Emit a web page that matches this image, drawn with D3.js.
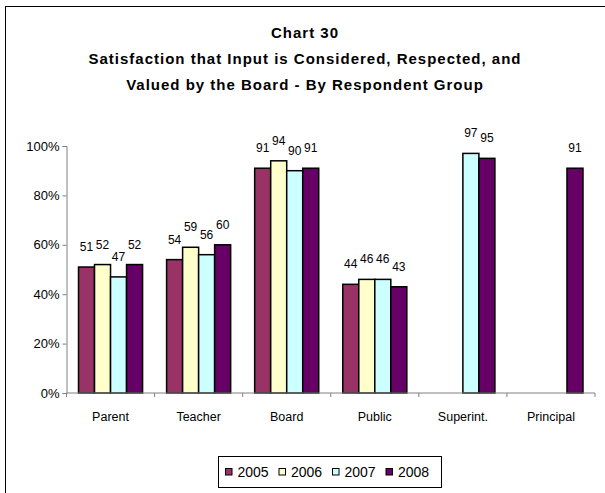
<!DOCTYPE html>
<html>
<head>
<meta charset="utf-8">
<script src="https://cdn.jsdelivr.net/npm/d3@7"></script>
<style>
  body { margin: 0; background: #fff; }
  svg { display: block; font-family: 'Liberation Sans', Arial, sans-serif; }
</style>
</head>
<body>
<svg id="chart" width="605" height="493"></svg>
<script>
const categories = ['Parent', 'Teacher', 'Board', 'Public', 'Superint.', 'Principal'];
const years = ['2005', '2006', '2007', '2008'];
const colors = ['#993366', '#ffffcc', '#ccffff', '#660066'];

// percent values per year, null where the group was not surveyed
const v2005 = [51, 54, 91, 44, null, null];
const v2006 = [52, 59, 94, 46, null, null];
const v2007 = [47, 56, 90, 46, 97, null];
const v2008 = [52, 60, 91, 43, 95, 91];

const yTicks = [0, 0.2, 0.4, 0.6, 0.8, 1];
const titleLines = [
  'Chart 30',
  'Satisfaction that Input is Considered, Respected, and',
  'Valued by the Board - By Respondent Group'
];

function drawChart() {
  const svg = d3.select('#chart');
  const series = [v2005, v2006, v2007, v2008];

  // outer chart frame (only left and top edges are visible)
  svg
    .append('rect')
    .attr('x', 5.5)
    .attr('y', 6.5)
    .attr('width', 700)
    .attr('height', 700)
    .attr('fill', 'none')
    .attr('stroke', '#000')
    .attr('stroke-width', 1);

  svg
    .append('g')
    .selectAll('text')
    .data(titleLines)
    .join('text')
    .attr('x', 305)
    .attr('y', (d, i) => 38 + i * 26)
    .attr('text-anchor', 'middle')
    .attr('font-size', 15)
    .attr('font-weight', 'bold')
    .attr('letter-spacing', 1)
    .text(d => d);

  const x = d3
    .scaleBand()
    .domain(categories)
    .range([66.5, 595]);

  const xInner = d3
    .scaleBand()
    .domain(years)
    .range([0, x.bandwidth()])
    .paddingOuter(0.75);

  const y = d3
    .scaleLinear()
    .domain([0, 1])
    .range([393, 146]);

  // y axis
  const yAxis = svg
    .append('g')
    .attr('transform', 'translate(66.5,0)')
    .call(
      d3
        .axisLeft(y)
        .tickValues(yTicks)
        .tickFormat(d3.format('.0%'))
        .tickSize(4)
        .tickPadding(3)
    );
  yAxis.select('.domain').attr('stroke', '#808080');
  yAxis.selectAll('.tick line').attr('stroke', '#808080');
  yAxis
    .selectAll('.tick text')
    .attr('fill', '#000')
    .attr('font-size', 13)
    .attr('font-family', 'Liberation Sans, Arial, sans-serif');

  // bars
  const bars = svg.append('g');
  series.forEach(function(vals, si) {
    const rows = categories
      .map((c, i) => ({cat: c, value: vals[i]}))
      .filter(d => d.value != null);

    bars
      .selectAll('.bar' + si)
      .data(rows)
      .join('rect')
      .attr('class', 'bar' + si)
      .attr('x', d => x(d.cat) + xInner(years[si]))
      .attr('y', d => y(d.value / 100))
      .attr('width', xInner.bandwidth())
      .attr('height', d => y(0) - y(d.value / 100))
      .attr('fill', colors[si])
      .attr('stroke', '#000')
      .attr('stroke-width', 1.5);

    bars
      .selectAll('.lbl' + si)
      .data(rows)
      .join('text')
      .attr('class', 'lbl' + si)
      .attr('x', d => x(d.cat) + xInner(years[si]) + xInner.bandwidth() / 2)
      .attr('y', d => y(d.value / 100) - 16)
      .attr('text-anchor', 'middle')
      .attr('font-size', 12)
      .text(d => d.value);
  });

  // x axis with ticks on category boundaries
  const xAxis = svg
    .append('g')
    .attr('transform', 'translate(0,393)');
  xAxis
    .append('line')
    .attr('x1', x.range()[0])
    .attr('x2', x.range()[1])
    .attr('stroke', '#808080');
  xAxis
    .selectAll('.xtick')
    .data(categories.concat(['end']))
    .join('line')
    .attr('class', 'xtick')
    .attr('x1', (d, i) => x.range()[0] + i * x.step())
    .attr('x2', (d, i) => x.range()[0] + i * x.step())
    .attr('y1', 0)
    .attr('y2', 4)
    .attr('stroke', '#808080');
  xAxis
    .selectAll('.xlabel')
    .data(categories)
    .join('text')
    .attr('class', 'xlabel')
    .attr('x', d => x(d) + x.bandwidth() / 2)
    .attr('y', 28)
    .attr('text-anchor', 'middle')
    .attr('font-size', 12.5)
    .text(d => d);

  // legend
  const legend = svg.append('g').attr('transform', 'translate(218.5,456.5)');
  legend
    .append('rect')
    .attr('width', 223)
    .attr('height', 31)
    .attr('fill', '#fff')
    .attr('stroke', '#000');

  const item = legend
    .selectAll('.item')
    .data(years)
    .join('g')
    .attr('class', 'item')
    .attr('transform', (d, i) => `translate(${7 + i * 53.5},0)`);
  item
    .append('rect')
    .attr('y', 12)
    .attr('width', 6.5)
    .attr('height', 6.5)
    .attr('fill', (d, i) => colors[i])
    .attr('stroke', '#000')
    .attr('stroke-width', 1);
  item
    .append('text')
    .attr('x', 12)
    .attr('y', 20.5)
    .attr('font-size', 14)
    .text(d => d);
}

document.addEventListener('DOMContentLoaded', drawChart);
</script>
</body>
</html>
